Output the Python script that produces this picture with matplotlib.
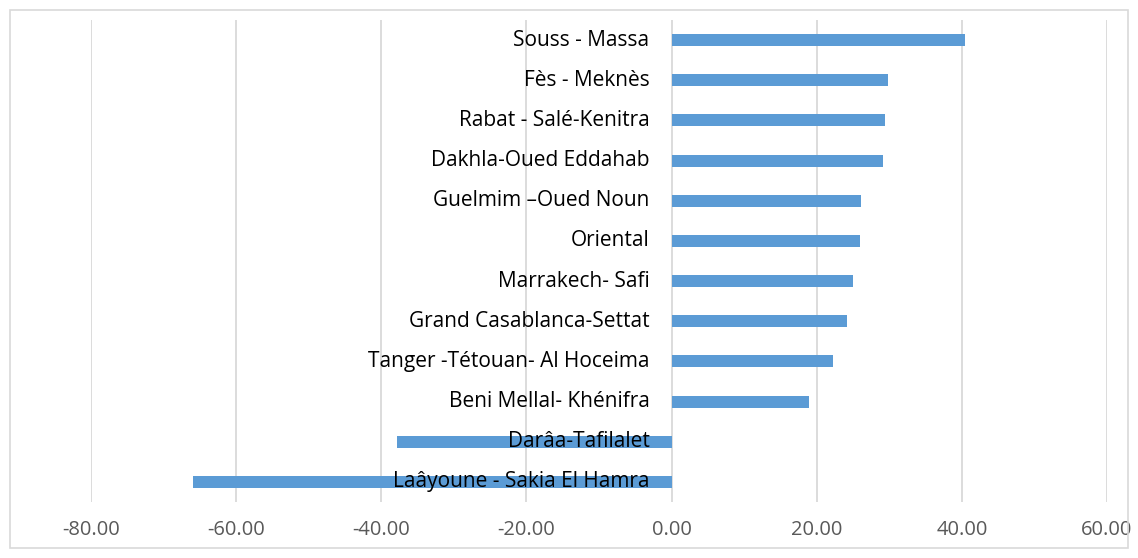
import matplotlib
matplotlib.use("Agg")
import matplotlib.pyplot as plt
import matplotlib.ticker as ticker
import matplotlib.patches as patches
import matplotlib.transforms as transforms

# regions, top to bottom as shown
regions = [
    "Souss - Massa",
    "Fès - Meknès",
    "Rabat - Salé-Kenitra",
    "Dakhla-Oued Eddahab",
    "Guelmim \u2013Oued Noun",
    "Oriental",
    "Marrakech- Safi",
    "Grand Casablanca-Settat",
    "Tanger -Tétouan- Al Hoceima",
    "Beni Mellal- Khénifra",
    "Darâa-Tafilalet",
    "Laâyoune - Sakia El Hamra",
]
values = [40.4, 29.8, 29.4, 29.1, 26.1, 25.9, 25.0, 24.2, 22.2, 19.0, -37.9, -66.0]
xticks = [-80, -60, -40, -20, 0, 20, 40, 60]

BAR_COLOR = "#5B9BD5"
GRID_COLOR = "#D9D9D9"
TEXT_COLOR = "#595959"

plt.rcParams["font.family"] = ["Open Sans", "DejaVu Sans"]

fig = plt.figure(figsize=(11.38, 5.58), dpi=100)
ax = fig.add_axes([91 / 1138, 1 - 502 / 558, (1107 - 91) / 1138, 482 / 558])

# outer chart border
fig.patches.append(patches.Rectangle((10 / 1138, 10 / 558), 1118 / 1138, 538 / 558,
                                     transform=fig.transFigure, fill=False,
                                     edgecolor=GRID_COLOR, linewidth=1.2))

ypos = list(range(len(regions)))
ax.barh(ypos, values, height=0.3, color=BAR_COLOR, zorder=2)

ax.set_xlim(-80, 60)
ax.set_ylim(len(regions) - 0.5, -0.5)
ax.set_xticks(xticks)
ax.xaxis.set_major_formatter(ticker.FuncFormatter(lambda v, p: "%.2f" % v))
ax.xaxis.grid(True, color=GRID_COLOR, linewidth=1.3)
ax.xaxis.set_zorder(0.5)
ax.tick_params(axis="x", length=0, pad=13, labelsize=14.5, labelcolor=TEXT_COLOR)

ax.set_yticks([])
for s in ax.spines.values():
    s.set_visible(False)

# category labels sit just left of the zero line, drawn above the bars
offset = transforms.ScaledTranslation(-22 / 100, 0, fig.dpi_scale_trans)
for y, name in zip(ypos, regions):
    ax.text(0, y, name, transform=ax.transData + offset, ha="right", va="center",
            fontsize=15, color="black", zorder=3)

fig.savefig("out.png", dpi=100)
